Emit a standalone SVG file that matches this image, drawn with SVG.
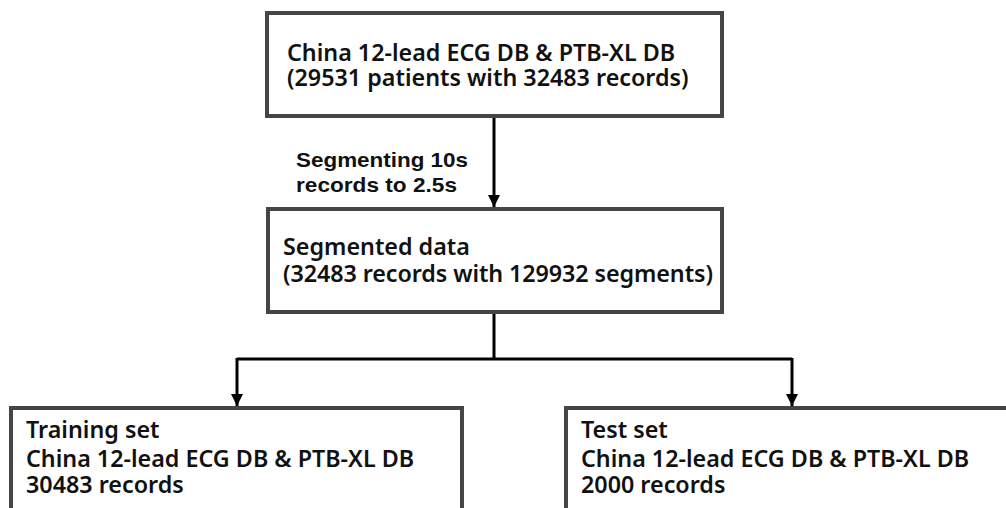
<svg xmlns="http://www.w3.org/2000/svg" width="1006" height="508" viewBox="0 0 1006 508">
  <style>
    .box { fill: #ffffff; stroke: #454545; stroke-width: 4; }
    .txt { font-family: "Noto Sans", "Open Sans", sans-serif; font-size: 23.3px; font-weight: 600; fill: #111111; }
    .lbl { font-family: "Liberation Sans", Arial, sans-serif; font-size: 21px; font-weight: bold; fill: #111111; }
    .wire { fill: none; stroke: #000000; stroke-width: 3; }
  </style>
  <defs>
    <marker id="arrow" markerUnits="userSpaceOnUse" markerWidth="14" markerHeight="14" refX="12" refY="6" orient="auto" viewBox="0 0 14 12">
      <path d="M0,0 L12,6 L0,12 Z" fill="#000000"/>
    </marker>
  </defs>
  <rect width="1006" height="508" fill="#ffffff"/>

  <g id="connectors">
    <line class="wire" x1="494" y1="117" x2="494" y2="207" marker-end="url(#arrow)"/>
    <polyline class="wire" points="494,312 494,359"/>
    <polyline class="wire" points="237,359 792,359"/>
    <line class="wire" x1="237" y1="358" x2="237" y2="406" marker-end="url(#arrow)"/>
    <line class="wire" x1="792" y1="358" x2="792" y2="406" marker-end="url(#arrow)"/>
    <text class="lbl">
      <tspan x="296" y="167" textLength="172" lengthAdjust="spacingAndGlyphs">Segmenting 10s</tspan>
      <tspan x="296" y="192" textLength="161" lengthAdjust="spacingAndGlyphs">records to 2.5s</tspan>
    </text>
  </g>

  <g id="source">
    <rect class="box" x="267" y="13" width="455" height="103"/>
    <text class="txt">
      <tspan x="287" y="61">China 12-lead ECG DB &amp; PTB-XL DB</tspan>
      <tspan x="287" y="86">(29531 patients with 32483 records)</tspan>
    </text>
  </g>

  <g id="segmented">
    <rect class="box" x="268" y="209" width="454" height="103"/>
    <text class="txt">
      <tspan x="283" y="255">Segmented data</tspan>
      <tspan x="283" y="282" textLength="430" lengthAdjust="spacing">(32483 records with 129932 segments)</tspan>
    </text>
  </g>

  <g id="training">
    <rect class="box" x="11" y="408" width="451" height="110"/>
    <text class="txt">
      <tspan x="26" y="438">Training set</tspan>
      <tspan x="26" y="467">China 12-lead ECG DB &amp; PTB-XL DB</tspan>
      <tspan x="26" y="493">30483 records</tspan>
    </text>
  </g>

  <g id="test">
    <rect class="box" x="566" y="408" width="450" height="110"/>
    <text class="txt">
      <tspan x="581" y="438">Test set</tspan>
      <tspan x="581" y="467">China 12-lead ECG DB &amp; PTB-XL DB</tspan>
      <tspan x="581" y="493">2000 records</tspan>
    </text>
  </g>
</svg>
